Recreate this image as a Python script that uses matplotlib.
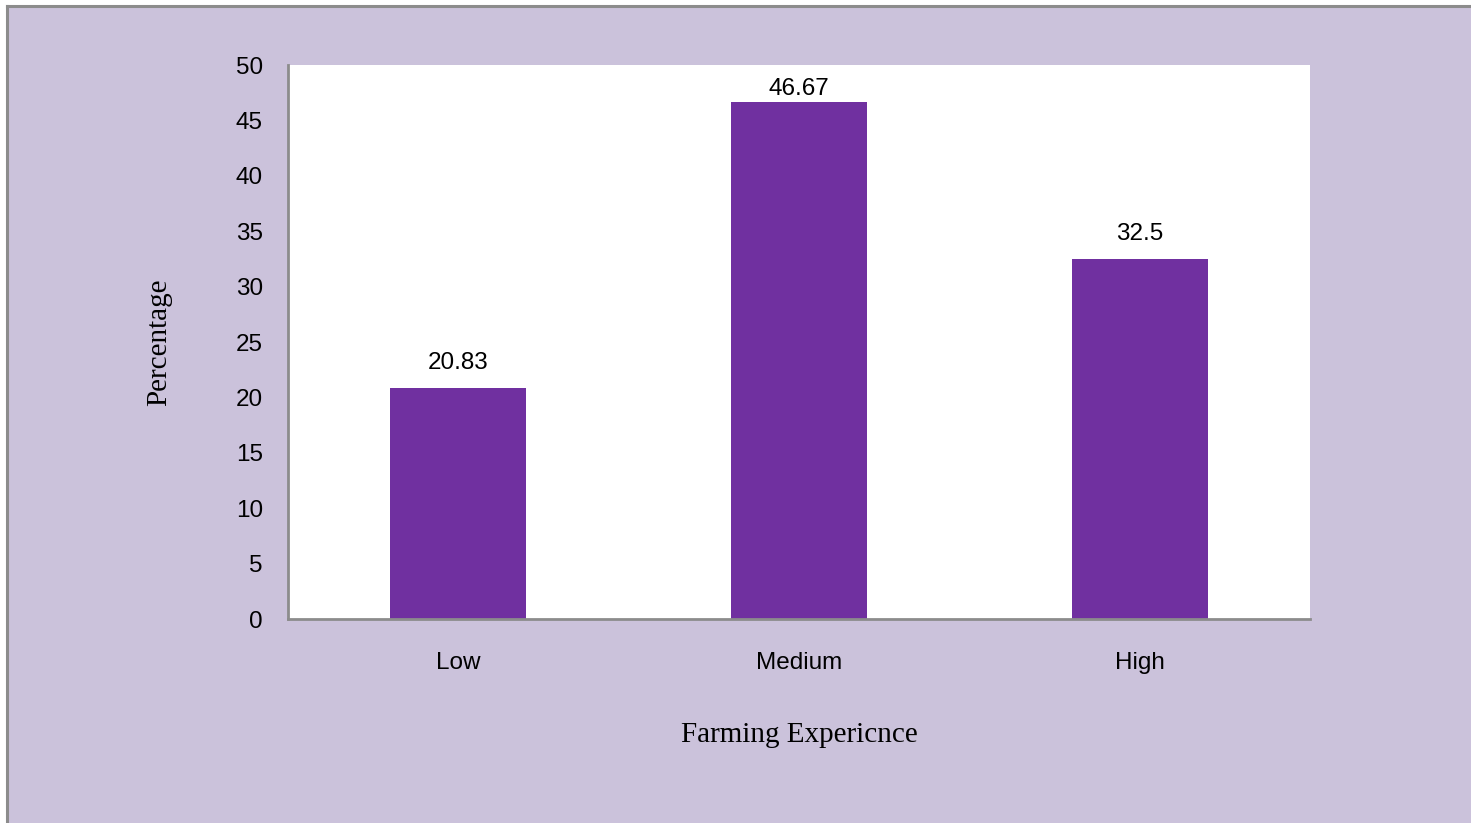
import matplotlib.pyplot as plt
from matplotlib.patches import Rectangle
from matplotlib.lines import Line2D

categories = ['Low', 'Medium', 'High']
percentages = [20.83, 46.67, 32.5]
value_labels = ['20.83', '46.67', '32.5']
yticks = [0, 5, 10, 15, 20, 25, 30, 35, 40, 45, 50]

W, H = 1471, 823
fig = plt.figure(figsize=(W / 100, H / 100), dpi=100)
fig.patch.set_facecolor('white')

# lavender background with grey frame on left and top
fig.add_artist(Rectangle((7 / W, 0), 1 - 7 / W, 1 - 7 / H, transform=fig.transFigure,
                         facecolor='#CBC2DB', edgecolor='none', zorder=0))
fig.add_artist(Line2D([7 / W, 7 / W], [0, 1 - 6 / H], transform=fig.transFigure,
                      color='#8C8C8C', lw=2.2))
fig.add_artist(Line2D([7 / W, 1], [1 - 6 / H, 1 - 6 / H], transform=fig.transFigure,
                      color='#8C8C8C', lw=2.2))

ax = fig.add_axes([288 / W, 1 - 619 / H, (1310 - 288) / W, (619 - 65) / H])
ax.set_facecolor('white')

x = range(len(categories))
bars = ax.bar(x, percentages, width=0.4, color='#7030A0')
for b, lab in zip(bars, value_labels):
    # labels sit above the bar, but stay inside the plot area near the top
    ly = min(b.get_height() + 2.25, 47.85)
    ax.text(b.get_x() + b.get_width() / 2, ly, lab,
            ha='center', va='center', fontsize=17.5, family='Liberation Sans')

ax.set_xlim(-0.5, 2.5)
ax.set_ylim(0, 50)
ax.set_yticks(yticks)
ax.set_xticks(list(x))
ax.set_xticklabels(categories)
ax.tick_params(length=0, labelsize=17.5)
ax.tick_params(axis='x', pad=23.5)
ax.tick_params(axis='y', pad=18)
for t in ax.get_xticklabels() + ax.get_yticklabels():
    t.set_family('Liberation Sans')

for s in ['top', 'right']:
    ax.spines[s].set_visible(False)
for s in ['left', 'bottom']:
    ax.spines[s].set_color('#8C8C8C')
    ax.spines[s].set_linewidth(2)

ax.set_xlabel('Farming Expericnce', family='Liberation Serif', fontsize=21, labelpad=35)
ax.set_ylabel('Percentage', family='Liberation Serif', fontsize=21, labelpad=46)

fig.savefig('out.png', dpi=100)
